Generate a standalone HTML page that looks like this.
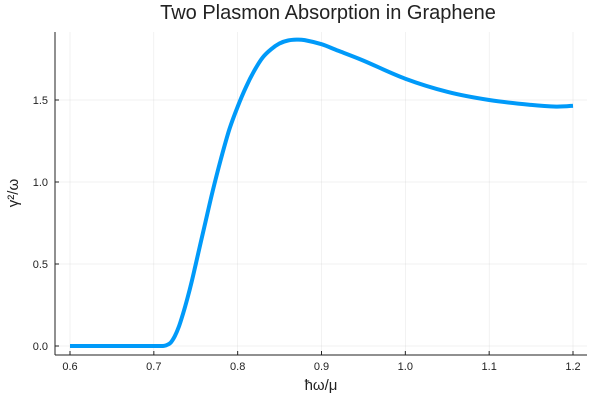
<!DOCTYPE html>
<html><head><meta charset="utf-8"><style>
body{margin:0;background:#fff;font-family:"Liberation Sans",sans-serif}
svg text{font-family:"Liberation Sans","DejaVu Sans",sans-serif}
</style></head><body>
<svg id="chart" width="600" height="400">
<rect width="600" height="400" fill="#fff"/>
<text x="328" y="19" font-size="20" text-anchor="middle" fill="#222">Two Plasmon Absorption in Graphene</text>
<g id="grid"></g><g id="ticks"></g>
<line x1="55" y1="355" x2="587" y2="355" stroke="#222"/>
<line x1="55" y1="32" x2="55" y2="355" stroke="#222"/>
<path id="curve" fill="none" stroke="#009af9" stroke-width="4" stroke-linejoin="round"/>
<text x="321" y="390" font-size="15" text-anchor="middle" fill="#222">ħω/μ</text>
<text x="18" y="193" font-size="15" text-anchor="middle" fill="#222" transform="rotate(-90 18 193)">γ²/ω</text>
</svg>
<script>
const xs=[0.60,0.70,0.71,0.715,0.72,0.725,0.73,0.735,0.74,0.745,0.75,0.76,0.77,0.78,0.79,0.80,0.81,0.82,0.83,0.84,0.85,0.86,0.87,0.88,0.90,0.92,0.95,1.00,1.05,1.10,1.15,1.18,1.20];
const ys=[0,0,0,0.005,0.02,0.06,0.12,0.2,0.29,0.39,0.5,0.72,0.94,1.14,1.32,1.46,1.58,1.68,1.76,1.81,1.845,1.863,1.868,1.865,1.84,1.80,1.74,1.63,1.55,1.50,1.47,1.46,1.465];
const xTicks=[0.6,0.7,0.8,0.9,1.0,1.1,1.2];
const xTickLabels=["0.6","0.7","0.8","0.9","1.0","1.1","1.2"];
const yTicks=[0,0.5,1.0,1.5];
const yTickLabels=["0.0","0.5","1.0","1.5"];
const X=v=>70+(v-0.6)*(503/0.6);
const Y=v=>346-v*164;
const ns="http://www.w3.org/2000/svg";
const grid=document.getElementById('grid'),tk=document.getElementById('ticks');
function mk(tag,attrs,parent){const e=document.createElementNS(ns,tag);for(const k in attrs)e.setAttribute(k,attrs[k]);parent.appendChild(e);return e;}
xTicks.forEach((t,i)=>{
 const g=mk('line',{x1:X(t),x2:X(t),y1:32,y2:355,stroke:'#000','stroke-opacity':0.1,'stroke-width':0.5},grid);
 
 
 const m=mk('line',{x1:X(t),x2:X(t),y1:355,y2:351,stroke:'#222'},tk);
 
 
 const l=mk('text',{x:X(t),y:370,'font-size':11,'text-anchor':'middle',fill:'#222'},tk);
 l.textContent=xTickLabels[i];
 
 
});
yTicks.forEach((t,i)=>{
 const g=mk('line',{x1:55,x2:587,y1:Y(t),y2:Y(t),stroke:'#000','stroke-opacity':0.1,'stroke-width':0.5},grid);
 
 
 const m=mk('line',{x1:55,x2:59,y1:Y(t),y2:Y(t),stroke:'#222'},tk);
 
 
 const l=mk('text',{x:48,y:Y(t)+4,'font-size':11,'text-anchor':'end',fill:'#222'},tk);
 l.textContent=yTickLabels[i];
 
 
});
// smooth Catmull-Rom path through data points
const P=xs.map((x,i)=>[X(x),Y(ys[i])]);
let d='M'+P[0][0].toFixed(1)+','+P[0][1].toFixed(1);
for(let i=0;i<P.length-1;i++){
 const p0=P[Math.max(0,i-1)],p1=P[i],p2=P[i+1],p3=P[Math.min(P.length-1,i+2)];
 const c1=[p1[0]+(p2[0]-p0[0])/6,p1[1]+(p2[1]-p0[1])/6];
 const c2=[p2[0]-(p3[0]-p1[0])/6,p2[1]-(p3[1]-p1[1])/6];
 d+='C'+c1[0].toFixed(1)+','+c1[1].toFixed(1)+' '+c2[0].toFixed(1)+','+c2[1].toFixed(1)+' '+p2[0].toFixed(1)+','+p2[1].toFixed(1);
}
document.getElementById('curve').setAttribute('d',d);
</script>
</body></html>
